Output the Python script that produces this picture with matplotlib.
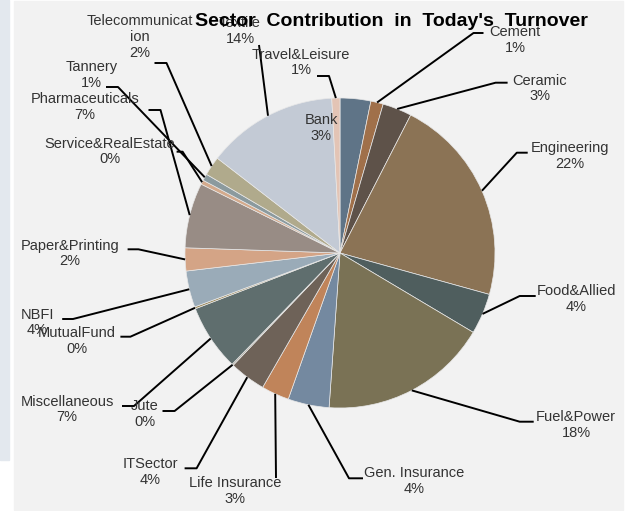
import numpy as np
import matplotlib.pyplot as plt
from matplotlib.patches import Rectangle

plt.rcParams['font.family'] = ['Liberation Sans', 'DejaVu Sans']

# data, clockwise from 12 o'clock
sectors = ['Bank', 'Cement', 'Ceramic', 'Engineering', 'Food&Allied',
           'Fuel&Power', 'Gen. Insurance', 'Life Insurance', 'ITSector', 'Jute',
           'Miscellaneous', 'MutualFund', 'NBFI', 'Paper&Printing',
           'Pharmaceuticals', 'Service&RealEstate', 'Tannery',
           'Telecommunicat\nion', 'Textile', 'Travel&Leisure']
shares = [3.2, 1.3, 3.05, 21.8, 4.25,
          17.6, 4.3, 2.9, 3.8, 0.15,
          6.9, 0.2, 3.8, 2.4,
          6.8, 0.45, 0.7,
          2.0, 13.7, 0.85]
colors = ['#5f7487', '#a0704a', '#5e5249', '#8b7355', '#4f5e5e',
          '#7a7255', '#7489a0', '#c0845a', '#6e6258', '#a09a8a',
          '#5f6e6e', '#9c8a5c', '#9aabb8', '#d4a486',
          '#988c85', '#d4aa8c', '#8b9a9e',
          '#b0aa8c', '#c3cad5', '#e3c4b5']

# label layout in pixels: text centre, then leader stub (start, end) or None
layout = {
    'Bank': ((321, 128), None),
    'Cement': ((515, 40), ((483.5, 33), (473.5, 33))),
    'Ceramic': ((540, 88.5), ((507.6, 82.7), (495.6, 82.7))),
    'Engineering': ((570, 156), ((527.7, 152.7), (516.8, 152.7))),
    'Food&Allied': ((576, 299), ((535.7, 296), (519.7, 296))),
    'Fuel&Power': ((576, 425), ((533.7, 421.7), (519.7, 421.7))),
    'Gen. Insurance': ((414, 481), ((363, 478.3), (349, 478.3))),
    'Life Insurance': ((235, 491), ((276, 478),)),
    'ITSector': ((150.5, 472), ((184.6, 468.3), (196.6, 468.3))),
    'Jute': ((144.5, 414), ((162.5, 411), (174.6, 411))),
    'Miscellaneous': ((67, 409.5), ((122, 406), (134, 406))),
    'MutualFund': ((77, 341), ((120.4, 336.7), (130.4, 336.7))),
    'NBFI': ((37, 322.5), ((62.2, 319), (73, 319))),
    'Paper&Printing': ((70, 253.5), ((127.6, 249.3), (138.4, 249.3))),
    'Pharmaceuticals': ((85, 107), ((148.5, 110), (160.5, 110))),
    'Service&RealEstate': ((110, 151.5), ((176.6, 151.7), (182.6, 151.7))),
    'Tannery': ((91.5, 75), ((106, 87), (118, 87))),
    'Telecommunicat\nion': ((140, 37), ((154.5, 63), (166.5, 63))),
    'Textile': ((240, 31), ((259, 45),)),
    'Travel&Leisure': ((301, 62.5), ((317, 76), (329, 76))),
}

W, H = 626, 511
cx, cy, R = 340, 253, 155

fig = plt.figure(figsize=(6.26, 5.11), dpi=100)
fig.patch.set_facecolor('white')
ax = fig.add_axes([0, 0, 1, 1])

ax.add_patch(Rectangle((0, 0), 9, 460, color='#e3e8ee', zorder=0))
ax.add_patch(Rectangle((14, 1), 609, 509, color='#f2f2f2', zorder=0))

wedges, _ = ax.pie(shares, colors=colors, center=(cx, cy), radius=R,
                   startangle=-90, counterclock=True,
                   wedgeprops=dict(edgecolor='#e8e8e8', linewidth=0.5))

for w, name, val in zip(wedges, sectors, shares):
    (tx, ty), stub = layout[name]
    ax.text(tx, ty, f'{name}\n{val:.0f}%', ha='center', va='center',
            fontsize=10.5, color='#333333', linespacing=1.15, zorder=5)
    if stub is None:
        continue
    mid = np.radians((w.theta1 + w.theta2) / 2)
    ex, ey = cx + R * np.cos(mid), cy + R * np.sin(mid)
    xs = [p[0] for p in stub] + [ex]
    ys = [p[1] for p in stub] + [ey]
    ax.plot(xs, ys, color='black', lw=1.4, solid_capstyle='butt', zorder=4)

ax.text(391, 22, "Sector  Contribution  in  Today's  Turnover",
        ha='center', va='center', fontsize=14, fontweight='bold',
        color='black', zorder=10)

ax.set_xlim(0, W)
ax.set_ylim(H, 0)
ax.set_aspect('auto')
ax.axis('off')

fig.savefig('out.png', dpi=100)
